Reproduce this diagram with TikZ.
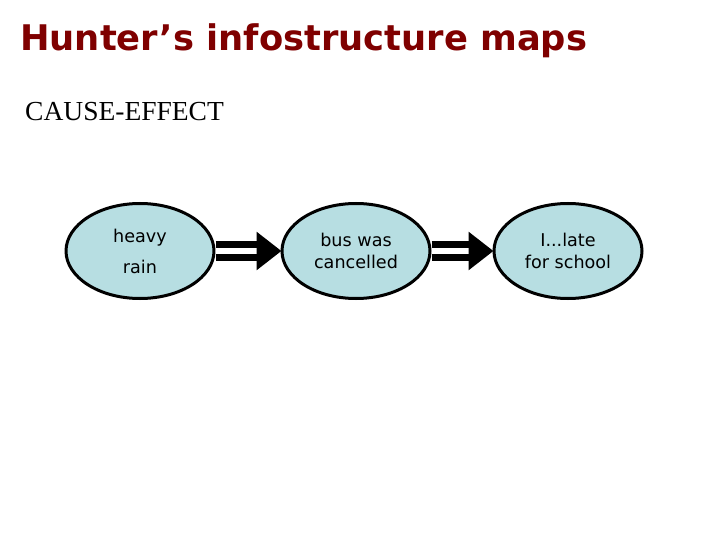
\documentclass[tikz,border=0pt]{standalone}
\usepackage{fontspec}
\setmainfont{Liberation Serif}
\newfontfamily\verdanaish{DejaVu Sans}
\usetikzlibrary{shapes.geometric, arrows.meta}
\begin{document}
\begin{tikzpicture}[x=1pt, y=-1pt, line join=round,
    infoblob/.style={ellipse, draw=black, line width=3pt, fill=pblue,
      minimum width=148pt, minimum height=95pt, inner sep=0pt, align=center,
      font=\verdanaish\fontsize{17.6}{22}\selectfont},
    causearrow/.style={line width=7pt, draw=black, double=white, double distance=6pt,
      -{Triangle[length=25pt, width=37pt]}, shorten >=-1pt}]
  \definecolor{dmaroon}{HTML}{7F0000}
  \definecolor{pblue}{RGB}{183,222,226}
  \useasboundingbox (0,0) rectangle (720,540);
  \node[anchor=base west, inner sep=0pt, text=dmaroon, font=\verdanaish\bfseries\fontsize{35.3}{40}\selectfont]
    (title) at (20,51) {Hunter’s infostructure maps};
  \node[anchor=base west, inner sep=0pt, font=\fontsize{27.5}{32}\selectfont]
    (kind) at (25,121) {CAUSE-EFFECT};
  \node[infoblob] (heavy) at (140,251) {heavy\\[9pt]rain};
  \node[infoblob] (bus) at (356,251) {bus was\\cancelled};
  \node[infoblob] (late) at (568,251) {I...late\\for school};
  \draw[causearrow] (heavy) -- (bus);
  \draw[causearrow] (bus) -- (late);
\end{tikzpicture}
\end{document}
